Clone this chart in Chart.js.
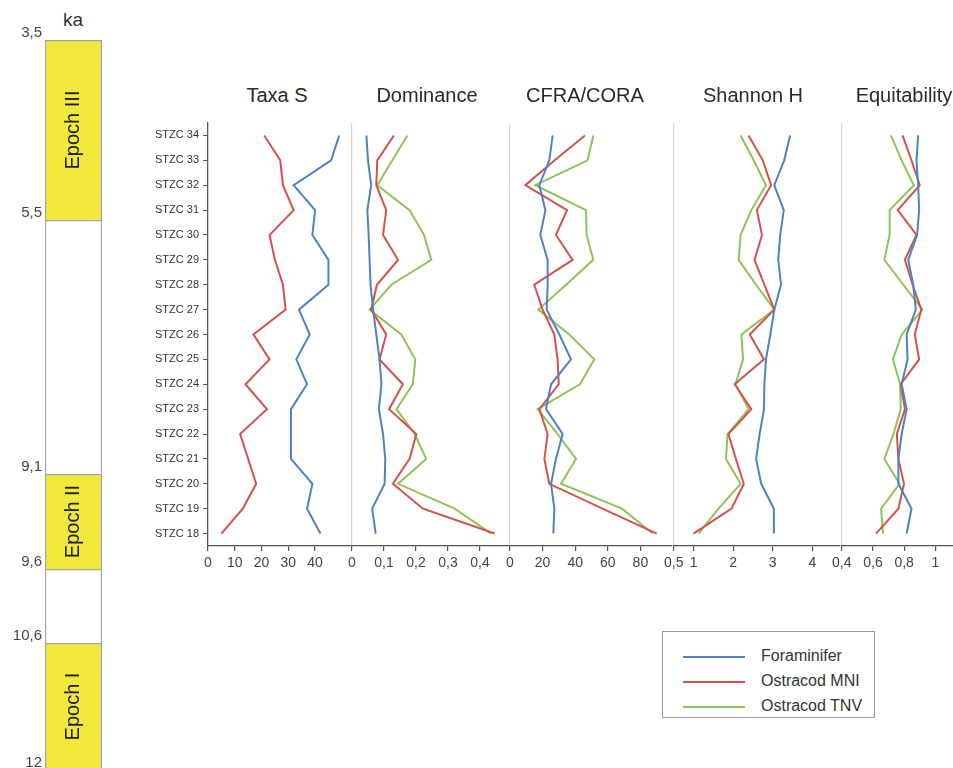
<!DOCTYPE html>
<html>
<head>
<meta charset="utf-8">
<title>Indices por muestra STZC</title>
<script src="https://cdn.jsdelivr.net/npm/chart.js@4.4.1/dist/chart.umd.min.js"></script>
<style>
  html, body { margin: 0; padding: 0; background: #fff; }
  body { width: 953px; height: 768px; position: relative; overflow: hidden;
         font-family: "Liberation Sans", Arial, sans-serif; color: #333; }
  canvas { position: absolute; }
  .titulo { position: absolute; top: 84px; font-size: 20px; color: #2a2a2a;
            transform: translateX(-50%); white-space: nowrap; }
  #ka { position: absolute; left: 63px; top: 9px; font-size: 19px; color: #333; }
  #leyenda { position: absolute; left: 662px; top: 631px; width: 211px; height: 85px;
             border: 1.5px solid #9a9a9a; box-sizing: content-box; }
  .item { position: absolute; left: 20px; height: 20px; font-size: 16px; color: #333; }
  .item span.linea { position: absolute; left: 0; top: 9px; width: 62px; height: 2px; }
  .item span.txt { position: absolute; left: 78px; top: 0; white-space: nowrap; }
</style>
</head>
<body>
<div id="ka">ka</div>
<canvas id="cEpocas"></canvas>
<canvas id="cTaxa"></canvas>
<canvas id="cDom"></canvas>
<canvas id="cCfra"></canvas>
<canvas id="cShan"></canvas>
<canvas id="cEqu"></canvas>
<div id="leyenda"></div>

<script>
// ------------------------------------------------------------
// Datos
// ------------------------------------------------------------
const muestras = ["STZC 34", "STZC 33", "STZC 32", "STZC 31", "STZC 30", "STZC 29",
                  "STZC 28", "STZC 27", "STZC 26", "STZC 25", "STZC 24", "STZC 23",
                  "STZC 22", "STZC 21", "STZC 20", "STZC 19", "STZC 18"];

const series  = ["Foraminifer", "Ostracod MNI", "Ostracod TNV"];
const colores = ["#4f81c6", "#d4524a", "#8fc35a"];

// Taxa S (sin serie TNV)
const taxaForam = [49, 46, 32, 40, 39, 45, 45, 34, 38, 33, 37, 31, 31, 31, 39, 37, 42];
const taxaMni   = [21, 27, 28, 32, 23, 25, 28, 29, 17, 23, 14, 22, 12, 15, 18, 13, 5];

// Dominance
const domForam = [0.045, 0.05, 0.06, 0.048, 0.052, 0.055, 0.058, 0.066, 0.076, 0.086, 0.092, 0.084, 0.097, 0.104, 0.102, 0.063, 0.074];
const domMni   = [0.131, 0.079, 0.076, 0.107, 0.097, 0.144, 0.078, 0.06, 0.107, 0.086, 0.159, 0.116, 0.201, 0.18, 0.128, 0.222, 0.446];
const domTnv   = [0.173, 0.126, 0.079, 0.18, 0.225, 0.248, 0.123, 0.055, 0.154, 0.198, 0.19, 0.139, 0.196, 0.232, 0.144, 0.321, 0.435];

// CFRA/CORA
const cfraForam = [26.2, 24.1, 18, 21.7, 18.6, 23.1, 23.1, 22.5, 30.3, 37.4, 25.2, 22.1, 32.3, 28.2, 25.2, 27.2, 26.6];
const cfraMni   = [46, 27.4, 9.4, 35, 28.2, 38.4, 14.9, 20, 27.2, 29.2, 29.9, 18, 23.1, 21.1, 24.1, 56.8, 90];
const cfraTnv   = [51.1, 47.6, 15.5, 46.6, 47, 51.1, 34.4, 17.4, 36.4, 51.7, 42.9, 17, 29.2, 40.5, 31.3, 68.7, 87.5];

// Shannon H
const shanForam = [3.44, 3.29, 3.04, 3.28, 3.19, 3.14, 3.21, 3.04, 2.94, 2.83, 2.79, 2.78, 2.67, 2.58, 2.71, 3.03, 3.03];
const shanMni   = [2.39, 2.75, 2.96, 2.6, 2.73, 2.54, 2.79, 3.04, 2.42, 2.78, 2.04, 2.46, 1.88, 2.07, 2.27, 1.96, 1.0];
const shanTnv   = [2.19, 2.52, 2.83, 2.46, 2.19, 2.14, 2.58, 3.04, 2.21, 2.25, 2.06, 2.39, 1.86, 1.82, 2.19, 1.63, 1.13];

// Equitability
const equForam = [0.89, 0.879, 0.89, 0.896, 0.883, 0.826, 0.858, 0.875, 0.816, 0.822, 0.784, 0.816, 0.784, 0.763, 0.763, 0.847, 0.816];
const equMni   = [0.79, 0.847, 0.9, 0.759, 0.879, 0.805, 0.854, 0.91, 0.868, 0.896, 0.778, 0.805, 0.753, 0.763, 0.799, 0.763, 0.62];
const equTnv   = [0.715, 0.784, 0.862, 0.707, 0.707, 0.673, 0.795, 0.917, 0.784, 0.728, 0.774, 0.778, 0.732, 0.673, 0.77, 0.652, 0.665];

// Ticks de cada eje X
const taxaTicks = [0, 10, 20, 30, 40];
const domTicks  = [0, 0.1, 0.2, 0.3, 0.4];
const cfraTicks = [0, 20, 40, 60, 80];
const shanTicks = [0.5, 1, 2, 3, 4];
const equTicks  = [0.4, 0.6, 0.8, 1];

// Columna de épocas (ka)
const epocaLimites = [3.5, 5.5, 9.1, 9.6, 10.6, 12];
const epocaNombres = ["Epoch III", "", "Epoch II", "", "Epoch I"];
const epocaRelleno = [true, false, true, false, true];

// Posición relativa de cada límite en la columna (la escala no es lineal)
const epocaFrac = [0, 0.2466, 0.5945, 0.7247, 0.826, 1];

// ------------------------------------------------------------
Chart.defaults.font.family = "'Liberation Sans', Arial, sans-serif";
Chart.defaults.color = "#333";
Chart.defaults.animation = false;

const coma = v => String(v).replace(".", ",");

/** Escala por tramos para la columna de edades */
class EscalaKa extends Chart.LinearScale {
  _aDecimal(v) {
    const n = epocaLimites.length;
    for (let i = 1; i < n; i++) {
      if (v <= epocaLimites[i] || i === n - 1) {
        const t = (v - epocaLimites[i - 1]) / (epocaLimites[i] - epocaLimites[i - 1]);
        return epocaFrac[i - 1] + t * (epocaFrac[i] - epocaFrac[i - 1]);
      }
    }
    return 0;
  }
  getPixelForValue(v) {
    return this.getPixelForDecimal(this._aDecimal(v));
  }
  getValueForPixel(p) {
    const d = this.getDecimalForPixel(p);
    for (let i = 1; i < epocaFrac.length; i++) {
      if (d <= epocaFrac[i]) {
        const t = (d - epocaFrac[i - 1]) / (epocaFrac[i] - epocaFrac[i - 1]);
        return epocaLimites[i - 1] + t * (epocaLimites[i] - epocaLimites[i - 1]);
      }
    }
    return epocaLimites[epocaLimites.length - 1];
  }
}
EscalaKa.id = "ka";
EscalaKa.defaults = Chart.LinearScale.defaults;
Chart.register(EscalaKa);

// Texto vertical dentro de cada época
const textoEpocas = {
  id: "textoEpocas",
  afterDatasetsDraw(chart) {
    const ctx = chart.ctx;
    epocaNombres.forEach((nombre, i) => {
      if (!nombre) return;
      const el = chart.getDatasetMeta(i).data[0];
      if (!el) return;
      const cy = (el.y + el.base) / 2;
      ctx.save();
      ctx.translate(el.x, cy);
      ctx.rotate(-Math.PI / 2);
      ctx.font = "20px 'Liberation Sans', Arial, sans-serif";
      ctx.fillStyle = "#222";
      ctx.textAlign = "center";
      ctx.textBaseline = "middle";
      ctx.fillText(nombre, 0, 0);
      ctx.restore();
    });
  }
};

function crearColumnaEpocas(canvasId) {
  const canvas = document.getElementById(canvasId);
  canvas.width = 103; canvas.height = 784;
  canvas.style.left = "0px"; canvas.style.top = "0px";

  const datasets = epocaNombres.map((n, i) => ({
    label: n || "-",
    data: [[epocaLimites[i], epocaLimites[i + 1]]],
    backgroundColor: epocaRelleno[i] ? "#f0e83c" : "#ffffff",
    borderColor: "#a3a3a3",
    borderWidth: { top: 1.5, left: 1.5, right: 1.5, bottom: 0 },
    borderSkipped: false,
    barPercentage: 1,
    categoryPercentage: 1,
    grouped: false
  }));

  return new Chart(canvas, {
    type: "bar",
    data: { labels: ["ka"], datasets },
    options: {
      responsive: false,
      layout: { padding: { top: 40, bottom: 14, left: 0, right: 1 } },
      plugins: { legend: { display: false }, tooltip: { enabled: false } },
      scales: {
        x: { display: false },
        y: {
          type: "ka",
          reverse: true,
          min: epocaLimites[0],
          max: epocaLimites[epocaLimites.length - 1],
          afterBuildTicks: s => { s.ticks = epocaLimites.map(v => ({ value: v })); },
          afterFit: s => { s.width = 45; },
          grid: { display: false, drawTicks: false, tickLength: 0 },
          border: { display: false },
          ticks: {
            callback: v => coma(v),
            labelOffset: -7,
            padding: 3,
            font: { size: 15 },
            color: "#444"
          }
        }
      }
    },
    plugins: [textoEpocas]
  });
}

/**
 * Panel de una variable: línea vertical por serie, muestras en el eje Y.
 */
function crearPanel(canvasId, cfg) {
  const canvas = document.getElementById(canvasId);
  const yW = cfg.etiquetas ? 68 : 0;
  const padL = cfg.etiquetas ? 0 : 12;
  const padR = 12;
  canvas.width  = (cfg.der - cfg.izq) + yW + padL + padR;
  canvas.height = 470;
  canvas.style.left = (cfg.izq - yW - padL) + "px";
  canvas.style.top  = "110px";

  const datasets = cfg.valores.map((vals, i) => ({
    label: series[i],
    data: vals,
    borderColor: colores[i],
    backgroundColor: colores[i],
    borderWidth: 2,
    pointRadius: 0,
    tension: 0,
    fill: false
  }));

  return new Chart(canvas, {
    type: "line",
    data: { labels: muestras, datasets },
    options: {
      responsive: false,
      indexAxis: "y",
      layout: { padding: { top: 13, left: padL, right: padR, bottom: 0 } },
      plugins: { legend: { display: false }, tooltip: { enabled: false } },
      scales: {
        x: {
          type: "linear",
          min: cfg.min,
          max: cfg.max,
          afterBuildTicks: s => { s.ticks = cfg.ticks.map(v => ({ value: v })); },
          afterFit: s => { s.height = 34; },
          border: { color: "#555", width: 1.3 },
          grid: {
            drawOnChartArea: !cfg.etiquetas,
            color: c => (c.index === 0 ? "#d6d6d6" : "rgba(0,0,0,0)"),
            tickColor: "#555",
            tickLength: 5,
            lineWidth: 1.2
          },
          ticks: {
            callback: v => coma(v),
            padding: 4,
            font: { size: 14 },
            color: "#444",
            maxRotation: 0
          }
        },
        y: {
          type: "category",
          offset: true,
          display: !!cfg.etiquetas,
          afterFit: s => { s.width = yW; },
          border: { color: "#555", width: 1.3 },
          grid: { drawOnChartArea: false, tickColor: "#555", tickLength: 5 },
          ticks: { padding: 4, font: { size: 11 }, color: "#333" }
        }
      }
    }
  });
}

// ------------------------------------------------------------
const paneles = [
  { id: "cTaxa", titulo: "Taxa S",       cx: 277, izq: 208, der: 352, min: 0,   max: 53.8,  ticks: taxaTicks, valores: [taxaForam, taxaMni], etiquetas: true },
  { id: "cDom",  titulo: "Dominance",    cx: 427, izq: 352, der: 510, min: 0,   max: 0.494, ticks: domTicks,  valores: [domForam, domMni, domTnv] },
  { id: "cCfra", titulo: "CFRA/CORA",    cx: 585, izq: 510, der: 672, min: 0,   max: 99.4,  ticks: cfraTicks, valores: [cfraForam, cfraMni, cfraTnv] },
  { id: "cShan", titulo: "Shannon H",    cx: 753, izq: 672, der: 840, min: 0.5, max: 4.7,   ticks: shanTicks, valores: [shanForam, shanMni, shanTnv] },
  { id: "cEqu",  titulo: "Equitability", cx: 904, izq: 840, der: 953, min: 0.4, max: 1.113, ticks: equTicks,  valores: [equForam, equMni, equTnv] }
];

crearColumnaEpocas("cEpocas");
paneles.forEach(p => {
  crearPanel(p.id, p);
  const t = document.createElement("div");
  t.className = "titulo";
  t.style.left = p.cx + "px";
  t.textContent = p.titulo;
  document.body.appendChild(t);
});

// Leyenda
const leyenda = document.getElementById("leyenda");
series.forEach((s, i) => {
  const it = document.createElement("div");
  it.className = "item";
  it.style.top = (15 + i * 25) + "px";
  it.innerHTML = '<span class="linea" style="background:' + colores[i] + '"></span>' +
                 '<span class="txt">' + s + "</span>";
  leyenda.appendChild(it);
});
</script>
</body>
</html>
